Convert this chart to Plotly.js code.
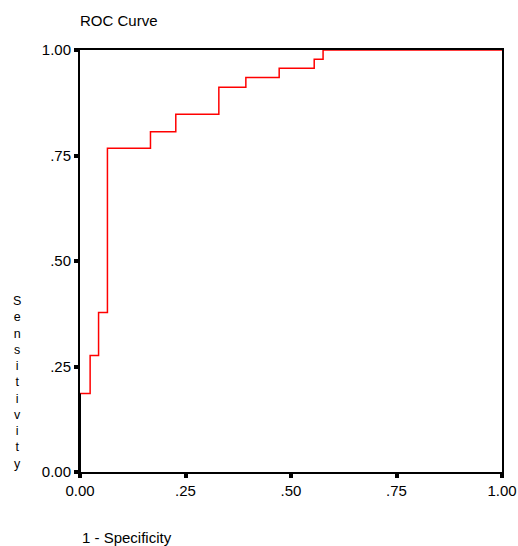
<!DOCTYPE html>
<html>
<head>
<meta charset="utf-8">
<script src="https://cdn.plot.ly/plotly-3.0.1.min.js"></script>
<style>html,body{margin:0;padding:0;background:#fff;}#chart{width:518px;height:546px;}</style>
</head>
<body>
<div id="chart"></div>
<script>
// ROC curve step points (1 - specificity, sensitivity)
const oneMinusSpecificity = [0, 0, 0.024, 0.044, 0.065, 0.167, 0.227, 0.329, 0.393, 0.472, 0.555, 0.576, 1.0];
const sensitivity        = [0, 0.186, 0.276, 0.378, 0.767, 0.806, 0.848, 0.912, 0.935, 0.957, 0.978, 1.0, 1.0];
const tickValues = [0, 0.25, 0.5, 0.75, 1.0];
const tickLabels = ['0.00', '.25', '.50', '.75', '1.00'];

const FONT = 'Liberation Sans, Arial, sans-serif';

const trace = {
  x: oneMinusSpecificity,
  y: sensitivity,
  type: 'scatter',
  mode: 'lines',
  line: {color: 'rgb(255,0,0)', width: 1.5, shape: 'hv'},
  hoverinfo: 'x+y',
  showlegend: false
};

// the first part of the curve runs along the left axis, which stays black there
const axisSegment = {
  x: oneMinusSpecificity.slice(0, 2),
  y: sensitivity.slice(0, 2),
  type: 'scatter',
  mode: 'lines',
  line: {color: '#000', width: 2},
  hoverinfo: 'skip',
  showlegend: false
};

const axisCommon = {
  range: [0, 1],
  tickvals: tickValues,
  ticktext: tickLabels,
  showgrid: false,
  zeroline: false,
  showline: true,
  linecolor: '#000',
  linewidth: 2,
  mirror: true,
  ticks: 'outside',
  ticklen: 4,
  tickwidth: 4,
  tickcolor: '#000',
  layer: 'below traces',
  tickfont: {family: FONT, size: 15, color: '#000'}
};

const layout = {
  width: 518,
  height: 546,
  margin: {l: 80, r: 16, t: 50, b: 74},
  paper_bgcolor: '#fff',
  plot_bgcolor: '#fff',
  title: {
    text: 'ROC Curve',
    font: {family: FONT, size: 15, color: '#000'},
    xref: 'paper', x: 0, xanchor: 'left',
    yref: 'container', y: 1 - 21/546, yanchor: 'middle'
  },
  xaxis: Object.assign({}, axisCommon),
  yaxis: Object.assign({}, axisCommon),
  annotations: [
    {
      text: '1 - Specificity',
      xref: 'paper', yref: 'paper',
      x: 0, xanchor: 'left',
      y: -(537 - 472) / 422, yanchor: 'middle',
      showarrow: false,
      font: {family: FONT, size: 15, color: '#000'}
    },
    {
      text: 'S<br>e<br>n<br>s<br>i<br>t<br>i<br>v<br>i<br>t<br>y',
      xref: 'paper', yref: 'paper',
      x: -(80 - 17) / 422, xanchor: 'center',
      y: (472 - 382) / 422, yanchor: 'middle',
      showarrow: false,
      align: 'center',
      font: {family: FONT, size: 12.5, color: '#000'}
    }
  ]
};

Plotly.newPlot('chart', [trace, axisSegment], layout, {displayModeBar: false});
</script>
</body>
</html>
